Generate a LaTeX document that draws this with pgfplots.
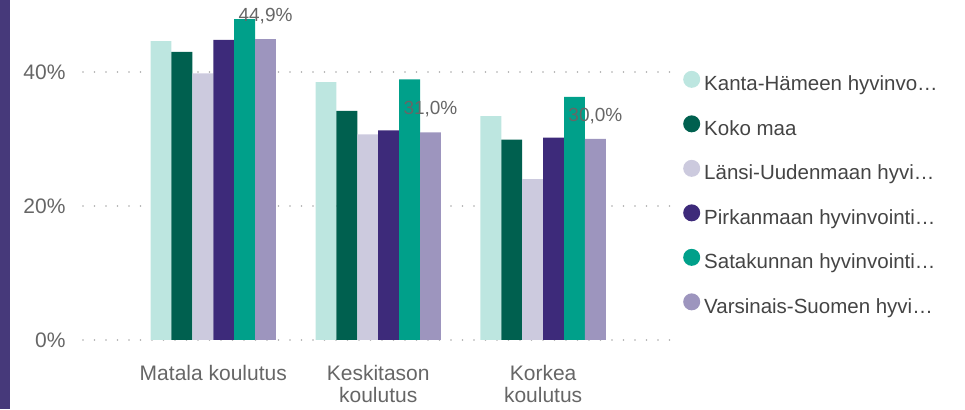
\documentclass[border=0pt]{standalone}
\usepackage{fontspec}
\setmainfont{Liberation Sans}
\usepackage{pgfplots}
\pgfplotsset{compat=1.18}
\definecolor{cKanta}{HTML}{BDE6E0}
\definecolor{cKoko}{HTML}{00604F}
\definecolor{cLansi}{HTML}{CCCADE}
\definecolor{cPirk}{HTML}{3D2A7A}
\definecolor{cSata}{HTML}{00A08A}
\definecolor{cVars}{HTML}{9D95BE}
\definecolor{stripe}{HTML}{46397A}
\definecolor{ticktext}{HTML}{666666}
\definecolor{legtext}{HTML}{444444}
\definecolor{gridcol}{HTML}{AAAAAA}

\begin{document}
\begin{tikzpicture}[x=1pt,y=1pt]
\path[use as bounding box] (0,0) rectangle (965,409);
\fill[stripe] (0,0) rectangle (10,409);
\begin{axis}[
  at={(83pt,69pt)}, anchor=south west,
  scale only axis, width=597pt, height=335pt,
  xmin=-0.79, xmax=2.83, ymin=0, ymax=50,
  ybar=0pt, bar width=20.9pt,
  xtick={0,1,2},
  xticklabels={Matala koulutus,{Keskitason\\koulutus},{Korkea\\koulutus}},
  xticklabel style={align=center, text=ticktext, font=\fontsize{21}{22}\selectfont, anchor=north, yshift=-22pt},
  ytick={0,20,40}, yticklabels={0\%,20\%,40\%},
  yticklabel style={text=ticktext, font=\fontsize{21}{22}\selectfont, xshift=-14pt},
  axis line style={draw=none}, major tick length=0pt,
  ymajorgrids, grid style={gridcol, line width=1.8pt, dash pattern=on 0pt off 11.5pt, line cap=round},
  legend style={draw=none, fill=none, at={(1.0,0.81)}, anchor=north west,
    font=\fontsize{20.5}{22}\selectfont, text=legtext, row sep=20.5pt,
    nodes={inner sep=0pt, text height=15pt, text depth=4pt},
    /tikz/every odd column/.append style={column sep=4pt}},
  legend cell align=left,
  legend image code/.code={\fill[#1] (9pt,6pt) circle (8.5pt);},
]
\addplot[fill=cKanta, draw=none] coordinates {(0,44.6) (1,38.5) (2,33.4)};
\addplot[fill=cKoko, draw=none] coordinates {(0,43.0) (1,34.2) (2,29.9)};
\addplot[fill=cLansi, draw=none] coordinates {(0,39.8) (1,30.7) (2,24.0)};
\addplot[fill=cPirk, draw=none] coordinates {(0,44.8) (1,31.3) (2,30.2)};
\addplot[fill=cSata, draw=none] coordinates {(0,47.9) (1,38.9) (2,36.3)};
\addplot[fill=cVars, draw=none,
  nodes near coords={\pgfmathprintnumber[fixed, fixed zerofill, precision=1, use comma, assume math mode=true]{\pgfplotspointmeta}\%},
  every node near coord/.append style={text=ticktext, font=\fontsize{19}{20}\selectfont, yshift=12pt}]
  coordinates {(0,44.9) (1,31.0) (2,30.0)};
\legend{Kanta-Hämeen hyvinvo…, Koko maa, Länsi-Uudenmaan hyvi…, Pirkanmaan hyvinvointi…, Satakunnan hyvinvointi…, Varsinais-Suomen hyvi…}
\end{axis}
\end{tikzpicture}
\end{document}
